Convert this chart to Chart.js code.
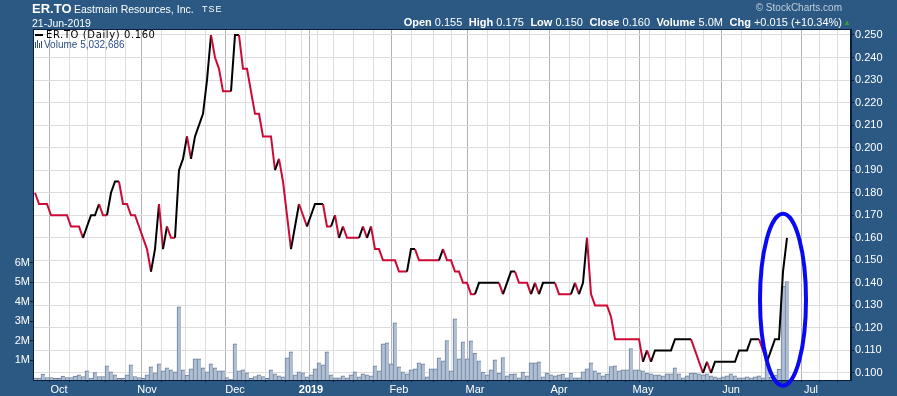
<!DOCTYPE html>
<html>
<head>
<meta charset="utf-8">
<script src="https://cdn.jsdelivr.net/npm/chart.js@4.4.1/dist/chart.umd.min.js"></script>
<style>
  html, body { margin: 0; padding: 0; background: #2b5983; }
  #wrap { position: relative; width: 897px; height: 396px; overflow: hidden; font-family: "Liberation Sans", Arial, sans-serif; }
  #wrap canvas { position: absolute; left: 0; top: 0; }
  .t { position: absolute; white-space: nowrap; color: #fff; }
  .q b { font-weight: bold; }
  .q span { margin-left: 6.5px; }
</style>
</head>
<body>
<div id="wrap">
  <canvas id="stockChart" width="897" height="396"></canvas>
  <div class="t" style="left:32px;top:2px;font-size:13px;line-height:13px;font-weight:bold;">ER.TO</div>
  <div class="t" style="left:74px;top:4px;font-size:10.5px;line-height:10.5px;">Eastmain Resources, Inc.</div>
  <div class="t" style="left:202px;top:5px;font-size:9px;line-height:9px;letter-spacing:1px;">TSE</div>
  <div class="t" style="left:32px;top:18px;font-size:10.5px;line-height:10.5px;">21-Jun-2019</div>
  <div class="t" style="right:55px;top:3px;font-size:10px;line-height:10px;color:#c3ceda;">&copy; StockCharts.com</div>
  <div class="t q" style="right:55px;top:17px;font-size:11px;line-height:11px;"><b>Open</b> 0.155<span><b>High</b> 0.175</span><span><b>Low</b> 0.150</span><span><b>Close</b> 0.160</span><span><b>Volume</b> 5.0M</span><span><b>Chg</b> +0.015 (+10.34%)</span></div>
  <div class="t" style="left:843px;top:19px;font-size:8px;line-height:8px;color:#3c9a3c;">&#9650;</div>
  <div style="position:absolute;left:35px;top:34px;width:8px;height:2px;background:#000;"></div>
  <div class="t" style="left:46px;top:30px;font-family:'DejaVu Sans',Verdana,sans-serif;font-size:10px;line-height:10px;letter-spacing:0.6px;color:#000;">ER.TO (Daily) 0.160</div>
  <div style="position:absolute;left:35px;top:42px;width:1px;height:6px;background:#2e5089;"></div>
  <div style="position:absolute;left:37px;top:40px;width:1px;height:8px;background:#2e5089;"></div>
  <div style="position:absolute;left:39px;top:43px;width:1px;height:5px;background:#2e5089;"></div>
  <div style="position:absolute;left:41px;top:41px;width:1px;height:7px;background:#2e5089;"></div>
  <div class="t" style="left:44px;top:40px;font-size:10px;line-height:10px;color:#2e5089;">Volume 5,032,686</div>
</div>
<script>
// daily closes, 21-Sep-2018 .. 21-Jun-2019 (trading days)
const closes = [
  0.180, 0.175, 0.175, 0.175, 0.170, 0.170, 0.170, 0.170, 0.170, 0.165,
  0.165, 0.165, 0.160, 0.165, 0.170, 0.170, 0.175, 0.170, 0.170, 0.180,
  0.185, 0.185, 0.175, 0.175, 0.170, 0.170, 0.165, 0.160, 0.155, 0.145,
  0.155, 0.175, 0.155, 0.165, 0.160, 0.160, 0.190, 0.195, 0.205, 0.195,
  0.205, 0.210, 0.215, 0.230, 0.250, 0.240, 0.235, 0.225, 0.225, 0.225,
  0.250, 0.250, 0.235, 0.235, 0.225, 0.215, 0.215, 0.205, 0.205, 0.205,
  0.190, 0.195, 0.185, 0.170, 0.155, 0.165, 0.175, 0.170, 0.165, 0.170,
  0.175, 0.175, 0.175, 0.165, 0.165, 0.170, 0.160, 0.165, 0.160, 0.160,
  0.160, 0.160, 0.165, 0.160, 0.165, 0.155, 0.155, 0.150, 0.150, 0.150,
  0.150, 0.145, 0.145, 0.145, 0.155, 0.155, 0.150, 0.150, 0.150, 0.150,
  0.150, 0.150, 0.155, 0.150, 0.150, 0.145, 0.145, 0.140, 0.140, 0.135,
  0.135, 0.140, 0.140, 0.140, 0.140, 0.140, 0.140, 0.135, 0.140, 0.145,
  0.145, 0.140, 0.140, 0.140, 0.135, 0.140, 0.135, 0.140, 0.140, 0.140,
  0.140, 0.135, 0.135, 0.135, 0.135, 0.140, 0.135, 0.140, 0.160, 0.135,
  0.130, 0.130, 0.130, 0.130, 0.125, 0.115, 0.115, 0.115, 0.115, 0.115,
  0.115, 0.115, 0.105, 0.110, 0.105, 0.110, 0.110, 0.110, 0.110, 0.110,
  0.115, 0.115, 0.115, 0.115, 0.115, 0.110, 0.105, 0.100, 0.105, 0.100,
  0.105, 0.105, 0.105, 0.105, 0.105, 0.105, 0.110, 0.110, 0.110, 0.115,
  0.115, 0.115, 0.110, 0.105, 0.110, 0.115, 0.115, 0.145, 0.160
];
// daily volume, millions of shares
const volumes = [
  0.10, 0.10, 0.30, 0.13, 0.13, 0.08, 0.08, 0.20, 0.13, 0.13,
  0.20, 0.26, 0.18, 0.47, 0.10, 0.38, 0.18, 0.18, 0.73, 0.42,
  0.26, 0.08, 0.08, 0.26, 0.78, 0.18, 0.13, 0.08, 0.26, 0.67,
  0.37, 0.83, 0.47, 0.62, 0.52, 0.42, 3.75, 0.52, 0.25, 0.57,
  1.08, 1.08, 0.62, 0.42, 0.83, 0.62, 0.47, 0.47, 0.13, 0.03,
  1.85, 0.47, 0.52, 0.37, 0.08, 0.18, 0.26, 0.18, 0.08, 0.52,
  0.31, 0.21, 0.16, 1.13, 1.44, 0.26, 0.42, 0.37, 0.16, 0.26,
  0.57, 0.88, 0.78, 1.44, 0.26, 0.11, 0.11, 0.21, 0.11, 0.26,
  0.42, 0.16, 0.31, 0.26, 0.21, 0.73, 0.47, 1.85, 1.90, 0.83,
  2.93, 0.67, 0.42, 0.31, 0.52, 0.57, 0.88, 0.83, 0.16, 0.57,
  0.57, 1.13, 0.98, 2.02, 0.47, 3.13, 1.08, 1.95, 1.08, 2.00,
  1.38, 0.98, 0.40, 0.26, 0.52, 1.03, 0.35, 1.15, 0.21, 0.30,
  0.32, 0.11, 0.40, 0.21, 0.88, 0.88, 0.93, 0.16, 0.36, 0.26,
  0.21, 0.26, 0.30, 0.11, 0.35, 0.11, 0.11, 0.42, 0.57, 0.88,
  0.47, 0.36, 0.21, 0.30, 0.69, 0.73, 0.47, 0.52, 0.52, 1.61,
  0.52, 0.52, 0.47, 0.35, 0.32, 0.26, 0.26, 0.21, 0.32, 0.32,
  0.62, 0.32, 0.11, 0.21, 0.36, 0.36, 0.32, 0.26, 0.32, 0.21,
  0.16, 0.11, 0.16, 0.21, 0.32, 0.21, 0.11, 0.11, 0.16, 0.11,
  0.16, 0.21, 0.11, 0.88, 0.15, 0.25, 0.55, 4.79, 5.03
];
// trading-day index of the first session of each month
const monthTicks = [6, 28, 50, 69, 91, 110, 131, 152, 174, 194];
const monthLabels = ['Oct', 'Nov', 'Dec', '2019', 'Feb', 'Mar', 'Apr', 'May', 'Jun', 'Jul'];
// first session of each week (light grid lines)
const weekTicks = [11, 15, 20, 25, 35, 40, 45, 55, 60, 65, 68, 72, 77, 82, 87, 97, 102, 106,
  116, 121, 126, 136, 141, 145, 150, 155, 160, 165, 169, 179, 184, 189, 198, 203];
const priceTicks = [0.100, 0.110, 0.120, 0.130, 0.140, 0.150, 0.160, 0.170, 0.180, 0.190,
  0.200, 0.210, 0.220, 0.230, 0.240, 0.250];
const volumeTicks = [1, 2, 3, 4, 5, 6];

const UP = '#000000', DOWN = '#cc0a35', FRAME = '#0b1d3d';

// segment colour follows the last price move (flat days keep it)
const segColors = [];
let lastCol = DOWN;
for (let i = 1; i < closes.length; i++) {
  if (closes[i] > closes[i - 1]) lastCol = UP;
  else if (closes[i] < closes[i - 1]) lastCol = DOWN;
  segColors.push(lastCol);
}

const gridTicks = monthTicks.concat(weekTicks).sort((a, b) => a - b);

const plotFrame = {
  id: 'plotFrame',
  beforeDraw(chart) {
    const { ctx, chartArea: a } = chart;
    ctx.save();
    ctx.fillStyle = '#ffffff';
    ctx.fillRect(a.left, a.top, a.right - a.left, a.bottom - a.top);
    ctx.restore();
  },
  afterDraw(chart) {
    const { ctx, chartArea: a, scales } = chart;
    ctx.save();
    ctx.strokeStyle = FRAME;
    ctx.lineWidth = 1;
    ctx.strokeRect(a.left + 0.5, a.top + 0.5, a.right - a.left - 1, a.bottom - a.top);
    // hand-drawn highlight round the last sessions
    const cx = scales.x.getPixelForValue(187);
    const cy = scales.yPrice.getPixelForValue(0.1325);
    ctx.strokeStyle = '#0a0af0';
    ctx.lineWidth = 4;
    ctx.beginPath();
    ctx.ellipse(cx, cy, 23, 86, 0, 0, Math.PI * 2);
    ctx.stroke();
    ctx.restore();
  }
};

new Chart(document.getElementById('stockChart'), {
  type: 'bar',
  data: {
    datasets: [{
      type: 'line',
      label: 'ER.TO (Daily)',
      data: closes.map((c, i) => ({ x: i, y: c })),
      yAxisID: 'yPrice',
      borderWidth: 2,
      pointRadius: 0,
      tension: 0,
      segment: { borderColor: ctx => segColors[ctx.p0DataIndex] },
      borderColor: DOWN,
      order: 1
    }, {
      type: 'bar',
      label: 'Volume',
      data: volumes.map((v, i) => ({ x: i, y: v })),
      yAxisID: 'yVol',
      backgroundColor: '#afbed2',
      borderColor: '#6c809b',
      borderWidth: { top: 1, left: 1, right: 0, bottom: 0 },
      borderSkipped: false,
      barThickness: 4,
      order: 2
    }]
  },
  options: {
    responsive: false,
    devicePixelRatio: 1,
    animation: false,
    layout: { padding: { top: 29, left: 0, right: 0, bottom: 0 } },
    plugins: { legend: { display: false }, tooltip: { enabled: false } },
    scales: {
      x: {
        type: 'linear',
        min: -0.5,
        max: 204,
        offset: false,
        afterBuildTicks: s => { s.ticks = gridTicks.map(v => ({ value: v })); },
        afterFit: s => { s.height = 16; },
        ticks: {
          autoSkip: false,
          maxRotation: 0,
          padding: 1,
          color: '#ffffff',
          font: ctx => ({
            family: '"Liberation Sans", Arial, sans-serif',
            size: 11,
            weight: ctx.tick && ctx.tick.value === 69 ? 'bold' : 'normal'
          }),
          callback: v => {
            const k = monthTicks.indexOf(v);
            return k >= 0 ? monthLabels[k] : '';
          }
        },
        grid: {
          color: ctx => (ctx.tick && monthTicks.includes(ctx.tick.value)) ? '#b2b2b2' : '#dddddd',
          tickColor: FRAME,
          tickLength: 2
        },
        border: { color: FRAME }
      },
      yVol: {
        type: 'linear',
        position: 'left',
        min: 0,
        max: 17.96,
        afterBuildTicks: s => { s.ticks = volumeTicks.map(v => ({ value: v })); },
        afterFit: s => { s.width = 33; },
        ticks: {
          padding: 0,
          color: '#ffffff',
          font: { family: '"Liberation Sans", Arial, sans-serif', size: 11 },
          callback: v => v + 'M'
        },
        grid: { drawOnChartArea: false, tickColor: FRAME, tickLength: 3 },
        border: { color: FRAME }
      },
      yPrice: {
        type: 'linear',
        position: 'right',
        min: 0.09689,
        max: 0.25266,
        afterBuildTicks: s => { s.ticks = priceTicks.map(v => ({ value: v })); },
        afterFit: s => { s.width = 46; },
        ticks: {
          padding: 1,
          color: '#ffffff',
          font: { family: '"Liberation Sans", Arial, sans-serif', size: 11 },
          callback: v => v.toFixed(3)
        },
        grid: { color: '#dddddd', tickColor: FRAME, tickLength: 3 },
        border: { color: FRAME }
      }
    }
  },
  plugins: [plotFrame]
});
</script>
</body>
</html>
